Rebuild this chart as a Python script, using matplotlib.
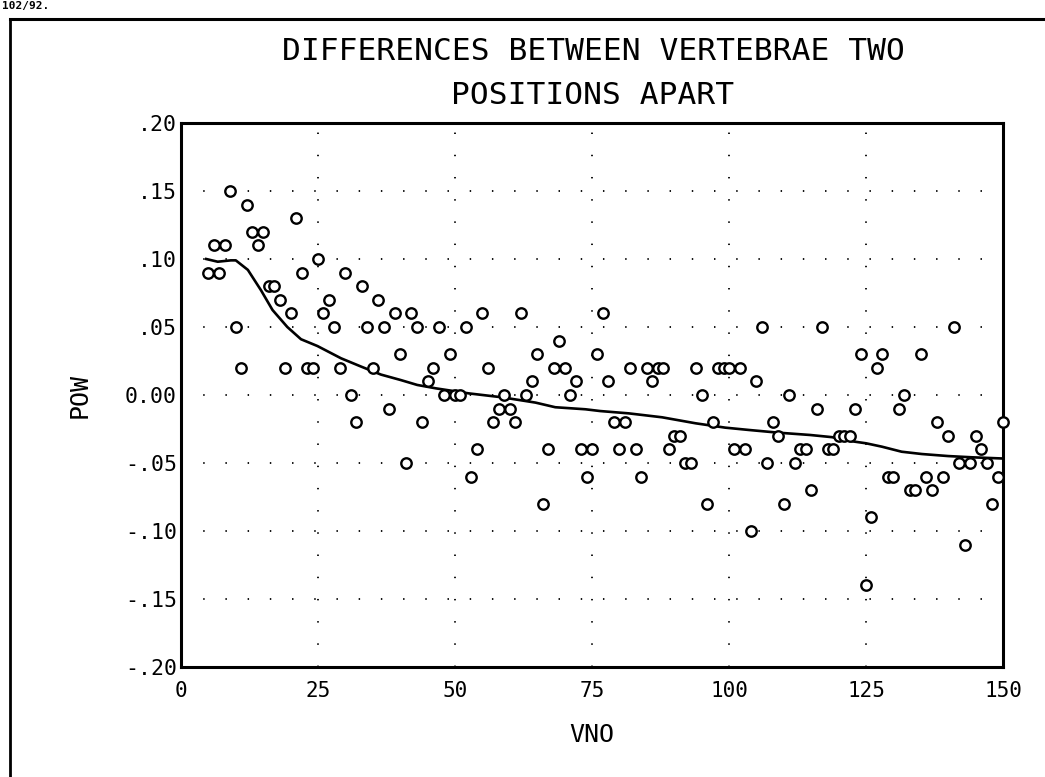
import matplotlib
matplotlib.use("Agg")
import matplotlib.pyplot as plt
from matplotlib.lines import Line2D

# Vertebra number and POW difference for each observation
vno = list(range(5, 151))
pow_diff = [
    .09, .11, .09, .11, .15, .05, .02, .14, .12, .11,   # 5-14
    .12, .08, .08, .07, .02, .06, .13, .09, .02, .02,   # 15-24
    .10, .06, .07, .05, .02, .09, .00, -.02, .08, .05,  # 25-34
    .02, .07, .05, -.01, .06, .03, -.05, .06, .05, -.02,  # 35-44
    .01, .02, .05, .00, .03, .00, .00, .05, -.06, -.04,   # 45-54
    .06, .02, -.02, -.01, .00, -.01, -.02, .06, .00, .01,  # 55-64
    .03, -.08, -.04, .02, .04, .02, .00, .01, -.04, -.06,  # 65-74
    -.04, .03, .06, .01, -.02, -.04, -.02, .02, -.04, -.06,  # 75-84
    .02, .01, .02, .02, -.04, -.03, -.03, -.05, -.05, .02,   # 85-94
    .00, -.08, -.02, .02, .02, .02, -.04, .02, -.04, -.10,   # 95-104
    .01, .05, -.05, -.02, -.03, -.08, .00, -.05, -.04, -.04,  # 105-114
    -.07, -.01, .05, -.04, -.04, -.03, -.03, -.03, -.01, .03,  # 115-124
    -.14, -.09, .02, .03, -.06, -.06, -.01, .00, -.07, -.07,  # 125-134
    .03, -.06, -.07, -.02, -.06, -.03, .05, -.05, -.11, -.05,  # 135-144
    -.03, -.04, -.05, -.08, -.06, -.02,                        # 145-150
]

# Smoothed trend through the differences
trend_x = [4.6, 6.7, 9.1, 10.0, 12.2, 14.6, 16.7, 19.4, 21.9, 24.9, 29.2,
           32.8, 36.5, 40.1, 43.1, 46.5, 52.5, 58.6, 64.7, 68.3, 73.8, 76.5,
           81.7, 87.8, 93.9, 99.3, 103.6, 109.0, 114.8, 118.8, 122.4, 125.0,
           127.9, 131.5, 135.2, 140.0, 144.3, 150.0]
trend_y = [.100, .098, .099, .099, .092, .077, .0625, .050, .041, .036, .027,
           .021, .015, .011, .0074, .0049, .0012, -.0017, -.0056, -.009,
           -.0105, -.0118, -.0135, -.0164, -.0208, -.024, -.0257, -.0277,
           -.0294, -.031, -.034, -.0355, -.038, -.0417, -.0434, -.0449,
           -.0458, -.0467]

x_ticks = [0, 25, 50, 75, 100, 125, 150]
y_ticks = [.20, .15, .10, .05, 0.0, -.05, -.10, -.15, -.20]
y_tick_labels = [".20", ".15", ".10", ".05", "0.00", "-.05", "-.10", "-.15", "-.20"]

FONT = "DejaVu Sans Mono"

fig = plt.figure(figsize=(10.45, 7.77), dpi=100)
ax = fig.add_axes([181 / 1045, 1 - 667 / 777, 822 / 1045, 544 / 777])

ax.plot(trend_x, trend_y, color="black", lw=1.9, zorder=3)
ax.plot(vno, pow_diff, linestyle="none", marker="o", markersize=7.5,
        markerfacecolor="white", markeredgecolor="black", markeredgewidth=1.7,
        clip_on=False, zorder=4)

ax.set_xlim(0, 150)
ax.set_ylim(-0.20, 0.20)
ax.set_xticks(x_ticks)
ax.set_xticklabels([str(t) for t in x_ticks], fontfamily=FONT, fontsize=15)
ax.set_yticks(y_ticks)
ax.set_yticklabels(y_tick_labels, fontfamily=FONT, fontsize=15.5)
ax.tick_params(axis="both", length=0, pad=3)
ax.tick_params(axis="x", pad=10)

ax.grid(True, color="black", linewidth=1.3, linestyle=(0, (0.8, 11.5)))
ax.set_axisbelow(True)
for sp in ax.spines.values():
    sp.set_linewidth(2.2)

ax.set_xlabel("VNO", fontfamily=FONT, fontsize=18, labelpad=16)
ax.set_ylabel("POW", fontfamily=FONT, fontsize=18, labelpad=24)

fig.text(593 / 1045, 1 - 52 / 777, "DIFFERENCES BETWEEN VERTEBRAE TWO",
         ha="center", va="center", fontfamily=FONT, fontsize=22.5)
fig.text(593 / 1045, 1 - 95 / 777, "POSITIONS APART",
         ha="center", va="center", fontfamily=FONT, fontsize=22.5)

# Page frame and header
fig.add_artist(Line2D([10 / 1045, 1.0], [1 - 19 / 777, 1 - 19 / 777],
                      transform=fig.transFigure, color="black", lw=2.2))
fig.add_artist(Line2D([10 / 1045, 10 / 1045], [0.0, 1 - 19 / 777],
                      transform=fig.transFigure, color="black", lw=2.0))
fig.text(2 / 1045, 1 - 1 / 777, "102/92.", ha="left", va="top",
         fontfamily=FONT, fontsize=8, fontweight="bold")

fig.savefig("out.png", dpi=100, facecolor="white")
